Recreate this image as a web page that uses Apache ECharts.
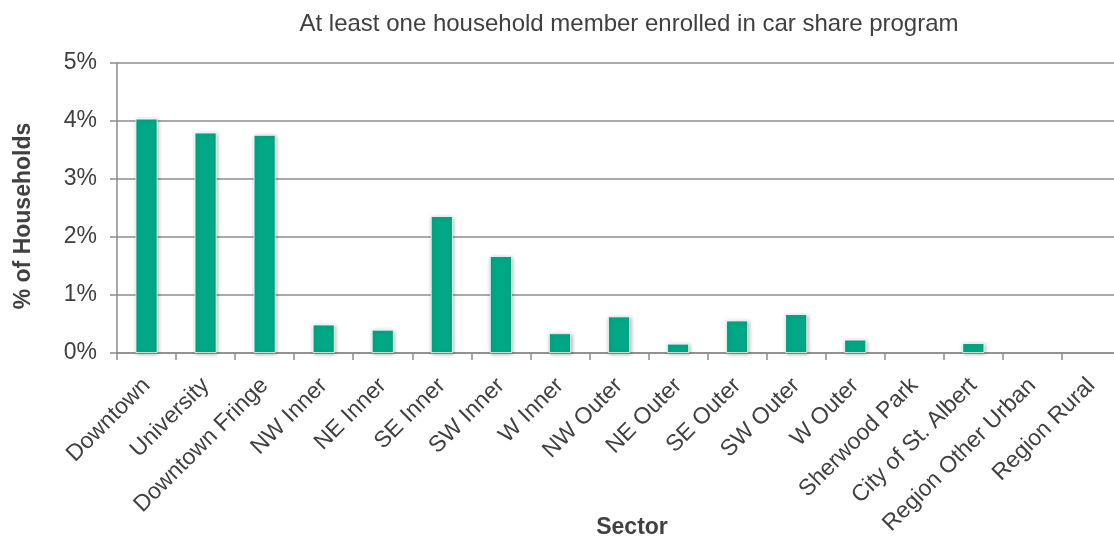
<!DOCTYPE html>
<html>
<head>
<meta charset="utf-8">
<script src="https://cdn.jsdelivr.net/npm/echarts@6/dist/echarts.min.js"></script>
<style>
  html, body { margin: 0; padding: 0; background: #fff; overflow: hidden; }
  #chart { width: 1114px; height: 537px; }
</style>
</head>
<body>
<div id="chart"></div>
<script>
// Share of households with at least one car share member, by sector (%)
const sectors = [
  'Downtown', 'University', 'Downtown Fringe', 'NW Inner', 'NE Inner',
  'SE Inner', 'SW Inner', 'W Inner', 'NW Outer', 'NE Outer', 'SE Outer',
  'SW Outer', 'W Outer', 'Sherwood Park', 'City of St. Albert',
  'Region Other Urban', 'Region Rural'
];
const shares = [4.04, 3.80, 3.76, 0.49, 0.40, 2.36, 1.67, 0.34, 0.63, 0.16, 0.56, 0.67, 0.23, 0, 0.17, 0, 0];
const yTicks = { min: 0, max: 5, step: 1 };

const FONT = '"Liberation Sans", Arial, sans-serif';
const TEXT = '#404040';
const LINE = '#8c8c8c';

// Empty sectors get no drop shadow so nothing shows on the baseline
const barData = shares.map(v => v > 0 ? v : { value: v, itemStyle: { shadowBlur: 0, shadowOffsetX: 0, shadowOffsetY: 0, borderWidth: 0 } });

const chart = echarts.init(document.getElementById('chart'), null, { renderer: 'canvas' });
chart.setOption({
  animation: false,
  title: {
    text: 'At least one household member enrolled in car share program',
    left: 624,
    top: 7,
    textAlign: 'center',
    textStyle: { fontFamily: FONT, fontSize: 24, fontWeight: 'normal', color: TEXT }
  },
  grid: {
    left: 117, right: -7, top: 63, bottom: 184,
    containLabel: false,
    outerBoundsMode: 'none'
  },
  xAxis: {
    type: 'category',
    data: sectors,
    name: 'Sector',
    nameLocation: 'middle',
    nameGap: 163,
    nameMoveOverlap: false,
    nameTextStyle: {
      fontFamily: FONT, fontSize: 23, fontWeight: 'bold', color: TEXT,
      padding: [0, 0, 0, 26]
    },
    axisLine: { lineStyle: { color: LINE, width: 1.5 } },
    axisTick: { show: true, alignWithLabel: false, length: 7, lineStyle: { color: LINE, width: 1.5 } },
    axisLabel: {
      rotate: 45, interval: 0, margin: 29,
      fontFamily: FONT, fontSize: 23, color: TEXT
    }
  },
  yAxis: {
    type: 'value',
    min: yTicks.min, max: yTicks.max, interval: yTicks.step,
    name: '% of Households',
    nameLocation: 'middle',
    nameRotate: 90,
    nameGap: 82,
    nameMoveOverlap: false,
    nameTextStyle: {
      fontFamily: FONT, fontSize: 23, fontWeight: 'bold', color: TEXT,
      padding: [0, 16, 0, 0]
    },
    axisLine: { show: true, lineStyle: { color: LINE, width: 1.5 } },
    axisTick: { show: true, length: 7, lineStyle: { color: LINE, width: 1.5 } },
    splitLine: { show: true, lineStyle: { color: LINE, width: 1.5 } },
    axisLabel: {
      formatter: '{value}%', margin: 20,
      fontFamily: FONT, fontSize: 23, color: TEXT
    }
  },
  series: [{
    type: 'bar',
    data: barData,
    barWidth: 22,
    itemStyle: {
      color: '#00a886',
      borderColor: '#ffffff',
      borderWidth: 0.8,
      shadowColor: 'rgba(0,0,0,0.3)',
      shadowBlur: 4,
      shadowOffsetX: 1,
      shadowOffsetY: 1
    }
  }]
});
</script>
</body>
</html>
